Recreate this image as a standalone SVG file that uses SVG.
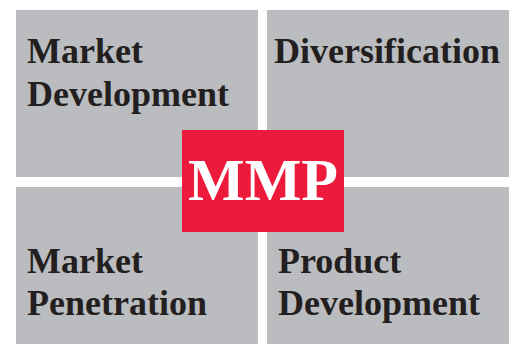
<svg xmlns="http://www.w3.org/2000/svg" width="515" height="344" viewBox="0 0 515 344">
<style>
.q{fill:#bbbcbf}
.t{font-family:"Liberation Serif","Times New Roman",serif;font-weight:bold;font-size:36px;fill:#231f20}
.c{font-family:"Liberation Serif","Times New Roman",serif;font-weight:bold;font-size:60px;fill:#ffffff}
</style>
<rect width="515" height="344" fill="#ffffff"/>
<g id="market-development">
<rect class="q" x="16" y="10" width="242" height="167"/>
<text class="t" x="27" y="63">Market</text>
<text class="t" x="27" y="106">Development</text>
</g>
<g id="diversification">
<rect class="q" x="267" y="10" width="242" height="167"/>
<text class="t" x="274" y="63">Diversification</text>
</g>
<g id="market-penetration">
<rect class="q" x="16" y="187" width="242" height="157"/>
<text class="t" x="27" y="273">Market</text>
<text class="t" x="27" y="315">Penetration</text>
</g>
<g id="product-development">
<rect class="q" x="267" y="187" width="242" height="157"/>
<text class="t" x="278" y="273">Product</text>
<text class="t" x="278" y="315">Development</text>
</g>
<g id="connectors"></g>
<g id="mmp">
<rect x="182" y="130" width="162" height="102" fill="#ed1b3b"/>
<text class="c" x="263" y="200" text-anchor="middle">MMP</text>
</g>
</svg>
